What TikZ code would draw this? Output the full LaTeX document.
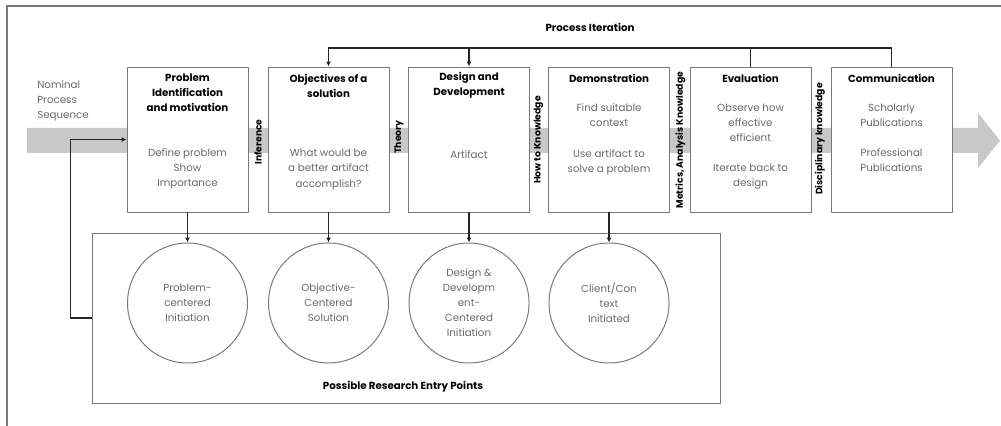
\documentclass[tikz,border=0pt]{standalone}
\usepackage{fontspec}
\setmainfont{Poppins}
\usetikzlibrary{arrows.meta}
\definecolor{framegray}{RGB}{120,120,120}
\definecolor{bandgray}{RGB}{200,200,200}
\definecolor{textgray}{RGB}{105,105,105}
\tikzset{
  stepbox/.style={draw=framegray,fill=white,line width=0.7pt,minimum width=30.25mm,minimum height=36.25mm,inner sep=0pt},
  boxtitle/.style={align=center,inner sep=0pt,font=\fontsize{7.3}{10.7}\selectfont\bfseries},
  boxbody/.style={align=center,inner sep=0pt,text=textgray,font=\fontsize{7.3}{10.7}\selectfont},
  gaplabel/.style={rotate=90,inner sep=0pt,font=\fontsize{6.6}{8}\selectfont\bfseries},
  entry/.style={circle,draw=framegray,line width=0.7pt,minimum size=30mm,align=center,inner sep=0pt,text=textgray,font=\fontsize{7.3}{10.7}\selectfont},
  loopline/.style={line width=1.1pt,draw=black!85,-{Latex[length=3.5pt,width=3.5pt]}},
}
\begin{document}
\begin{tikzpicture}[x=0.25mm,y=-0.25mm]
  \useasboundingbox (0,0) rectangle (1001,426);
  \draw[framegray,line width=0.8pt] (7,426) -- (7,6) -- (1001,6);
  \fill[bandgray] (27,128) -- (978,128) -- (978,113) -- (1000,140.5) -- (978,168) -- (978,153) -- (27,153) -- cycle;
  \node[boxbody,anchor=west,align=left] (nps) at (37,101) {Nominal\\Process\\Sequence};

  \node[stepbox] (b1) at (187.5,139.5) {};
  \node[stepbox] (b2) at (328.5,139.5) {};
  \node[stepbox] (b3) at (469,139.5) {};
  \node[stepbox] (b4) at (609,139.5) {};
  \node[stepbox] (b5) at (750.5,139.5) {};
  \node[stepbox] (b6) at (891.5,139.5) {};

  \node[boxtitle] (t1) at (187.5,93) {Problem\\Identification\\and motivation};
  \node[boxtitle] (t2) at (328.5,85.5) {Objectives of a\\solution};
  \node[boxtitle] (t3) at (469,85.5) {Design and\\Development};
  \node[boxtitle] (t4) at (609,78) {Demonstration};
  \node[boxtitle] (t5) at (750.5,78) {Evaluation};
  \node[boxtitle] (t6) at (891.5,78) {Communication};

  \node[boxbody] (d1) at (187.5,169) {Define problem\\Show\\Importance};
  \node[boxbody] (d2) at (328.5,169.5) {What would be\\a better artifact\\accomplish?};
  \node[boxbody] (d3) at (469,155) {Artifact};
  \node[boxbody] (d4a) at (609,115.5) {Find suitable\\context};
  \node[boxbody] (d4b) at (609,162) {Use artifact to\\solve a problem};
  \node[boxbody] (d5a) at (750.5,123) {Observe how\\effective\\efficient};
  \node[boxbody] (d5b) at (750.5,177) {Iterate back to\\design};
  \node[boxbody] (d6a) at (891.5,115.5) {Scholarly\\Publications};
  \node[boxbody] (d6b) at (891.5,160.5) {Professional\\Publications};

  \node[gaplabel] (g1) at (258,142) {Inference};
  \node[gaplabel] (g2) at (399,137) {Theory};
  \node[gaplabel] (g3) at (538.5,140) {How to Knowledge};
  \node[gaplabel] (g4) at (680.5,140) {Metrics, Analysis Knowledge};
  \node[gaplabel] (g5) at (820,139) {Disciplinary knowledge};

  \node[font=\fontsize{7.3}{9}\selectfont\bfseries] (pit) at (590,27) {Process Iteration};
  \coordinate (top) at (590,48);

  \node[draw=framegray,line width=0.7pt,minimum width=157mm,minimum height=42.5mm] (rp) at (406,318) {};
  \node[font=\fontsize{7.3}{9}\selectfont\bfseries] (rpl) at (403,387) {Possible Research Entry Points};

  \node[entry] (c1) at (187.5,303) {Problem-\\centered\\Initiation};
  \node[entry] (c2) at (328.5,303) {Objective-\\Centered\\Solution};
  \node[entry] (c3) at (469,303) {Design \&\\Developm\\ent-\\Centered\\Initiation};
  \node[entry] (c4) at (609,303) {Client/Con\\text\\Initiated};

  \begin{scope}[loopline]
    \draw (b6.north) |- (top) -| (b2.north);
    \draw (b3.north |- top) -- (b3.north);
    \draw[-] (b5.north) -- (b5.north |- top);
    \draw (b1.south) to (c1.north);
    \draw (b2.south) to (c2.north);
    \draw (b3.south) to (c3.north);
    \draw (b4.south) to (c4.north);
    \draw (rp.west) -- ++(-21,0) |- (b1.west);
  \end{scope}
\end{tikzpicture}
\end{document}
